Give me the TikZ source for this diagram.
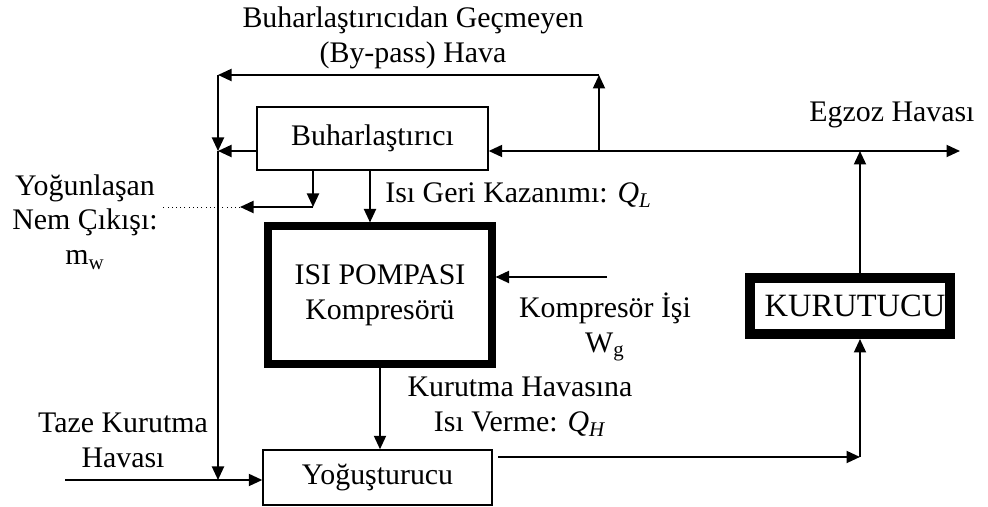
\documentclass[tikz,border=0pt]{standalone}
\usepackage{fontspec}
\setmainfont{Liberation Serif}
\newfontfamily\timesfont{Liberation Serif}
\usetikzlibrary{arrows.meta}

\begin{document}
\begin{tikzpicture}[
  font=\timesfont\fontsize{17}{19.8}\selectfont,
  unit/.style={draw, line width=0.8pt, inner sep=0pt},
  flow/.style={line width=1.1pt, -{Triangle[length=0.27cm,width=0.24cm]}},
  lbl/.style={align=center, inner sep=0pt}
]
\useasboundingbox (0,0) rectangle (19.76,10.14);

% boxes
\node[unit, minimum width=4.62cm, minimum height=1.26cm] (evap) at (7.45,7.37) {Buharlaştırıcı};
\node[unit, line width=4pt, minimum width=4.48cm, minimum height=2.76cm, align=center] (pump) at (7.6,4.24) {ISI POMPASI\\Kompresörü};
\node[unit, minimum width=4.58cm, minimum height=1.1cm] (cond) at (7.55,0.59) {Yoğuşturucu};
\node[unit, line width=5.7pt, minimum width=4.0cm, minimum height=1.12cm,
      font=\timesfont\fontsize{18.5}{20}\selectfont] (dryer) at (17.0,4.02) {\hspace*{0.2cm}KURUTUCU};

% corners of the air lines
\coordinate (tl) at (4.36,8.64);
\coordinate (bp) at (11.98,8.64);
\coordinate (bpb) at (11.98,7.12);
\coordinate (jx) at (17.2,7.12);
\coordinate (ex) at (19.2,7.12);
\coordinate (lm) at (4.36,7.12);
\coordinate (lb) at (4.36,0.54);
\coordinate (fa) at (1.3,0.54);
\coordinate (ct) at (6.26,6.0);
\coordinate (co) at (4.8,6.0);
\coordinate (cd) at (3.2,6.0);
\coordinate (ql) at (7.4,6.0);
\coordinate (wk) at (12.14,4.6);
\coordinate (cs) at (9.96,1.0);
\coordinate (cj) at (17.2,1.0);

% by-pass loop
\draw[flow] (bpb) -- (bp);
\draw[flow] (bp) -- (tl);
\draw[flow] (tl) -- (lm);
\draw[flow] (lm) -- (lb);
\draw[flow] (evap.west |- lm) -- (lm);

% exhaust line
\draw[flow] (jx) -- (ex);
\draw[flow] (jx) -- (evap.east |- jx);
\draw[flow] (dryer.north -| jx) -- (jx);

% condensate
\draw[flow] (evap.south -| ct) -- (ct);
\draw[flow] (ct) -- (co);
\draw[dotted] (co) -- (cd);

% heat pump
\draw[flow] (evap.south -| ql) -- (pump.north -| ql);
\draw[flow] (wk) -- (pump.east |- wk);
\draw[flow] (pump.south) -- (pump.south |- cond.north);

% drying air
\draw[flow] (fa) -- (cond.west |- fa);
\draw[flow] (cs) -- (cj);
\draw[flow] (cj) -- (dryer.south -| cj);

% labels
\node[lbl] (bypass) at (8.26,9.39) {Buharlaştırıcıdan Geçmeyen\\(By-pass) Hava};
\node[lbl] (moist) at (1.7,5.7) {Yoğunlaşan\\Nem Çıkışı:\\m\textsubscript{w}};
\node[lbl, anchor=west] (qlow) at (7.7,6.24) {Isı Geri Kazanımı: \textit{Q}\textsubscript{\textit{L}}};
\node[lbl] (work) at (12.1,3.6) {Kompresör İşi\\W\textsubscript{g}};
\node[lbl] (qhigh) at (10.4,2.0) {Kurutma Havasına\\Isı Verme: \textit{Q}\textsubscript{\textit{H}}};
\node[lbl] (fresh) at (2.46,1.34) {Taze Kurutma\\Havası};
\node[lbl] (exhaust) at (17.84,7.84) {Egzoz Havası};
\end{tikzpicture}
\end{document}
